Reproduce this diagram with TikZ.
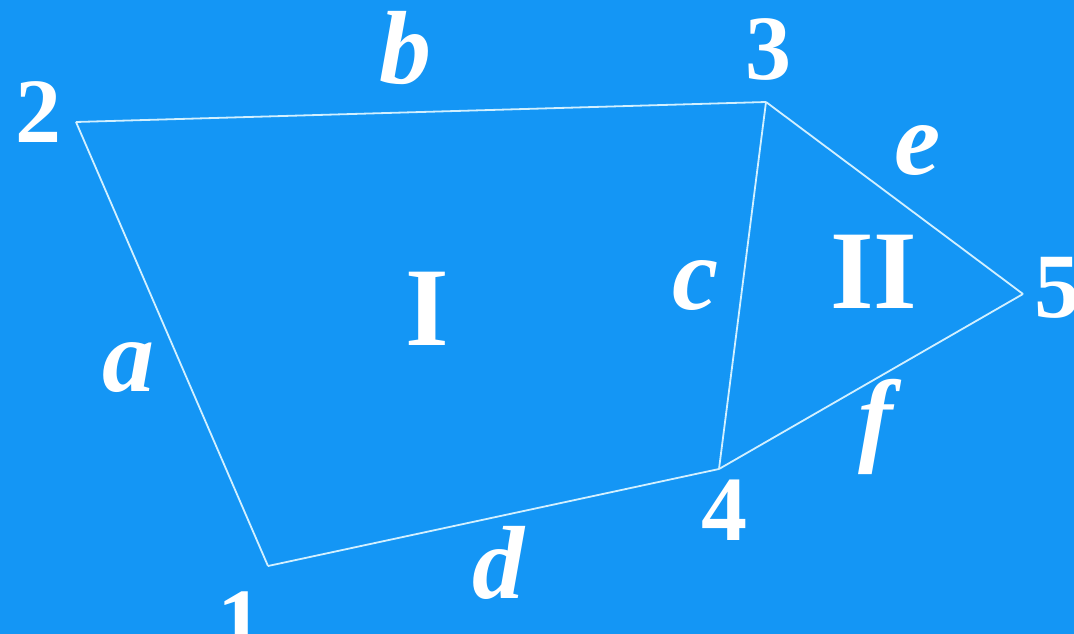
\documentclass[tikz,border=0pt]{standalone}
\usepackage{fontspec}
\setmainfont{Liberation Serif}
\usetikzlibrary{positioning}
\definecolor{backdrop}{RGB}{20, 150, 245}
\definecolor{wire}{RGB}{210, 240, 255}
\definecolor{ink}{RGB}{255, 255, 255}

\begin{document}
\begin{tikzpicture}[
            x=1pt, y=-1pt,
            vertexlabel/.style={text=ink, anchor=base, inner sep=0pt, font=\fontsize{92}{92}\selectfont\bfseries},
            edgelabel/.style={text=ink, anchor=base, inner sep=0pt, font=\fontsize{104}{104}\selectfont\bfseries\itshape},
            regionlabel/.style={text=ink, anchor=base, inner sep=0pt, font=\fontsize{112}{112}\selectfont\bfseries},
            edge/.style={draw=wire, line width=1.8pt, line join=miter}
        ]
            \fill[backdrop] (0,0) rectangle (1074,634);
            \useasboundingbox (0,0) rectangle (1074,634);

            % corners of the two regions
            \coordinate (p1) at (268,566);
            \coordinate (p2) at (76,122);
            \coordinate (p3) at (766,102);
            \coordinate (p4) at (719,469);
            \coordinate (p5) at (1023,294);

            \draw [edge] (p1) -- (p2);
            \draw [edge] (p2) -- (p3);
            \draw [edge] (p3) -- (p4);
            \draw [edge] (p4) -- (p1);
            \draw [edge] (p3) -- (p5);
            \draw [edge] (p5) -- (p4);

            % corner numbers
            \node[vertexlabel] (lab1) at (240,652) {1};
            \node[vertexlabel] (lab2) at (38,142) {2};
            \node[vertexlabel] (lab3) at (768,80) {3};
            \node[vertexlabel] (lab4) at (724,540) {4};
            \node[vertexlabel] (lab5) at (1057,317) {5};

            % edge names
            \node[edgelabel] (edgea) at (128,391) {a};
            \node[edgelabel] (edgeb) at (405,84) {b};
            \node[edgelabel] (edgec) at (696,309) {c};
            \node[edgelabel] (edged) at (498,598) {d};
            \node[edgelabel] (edgee) at (918,174) {e};
            \node[edgelabel] (edgef) at (876,452) {f};

            % regions
            \node[regionlabel] (regionI) at (427,345) {I};
            \node[regionlabel] (regionII) at (874,308) {II};
        \end{tikzpicture}
\end{document}
